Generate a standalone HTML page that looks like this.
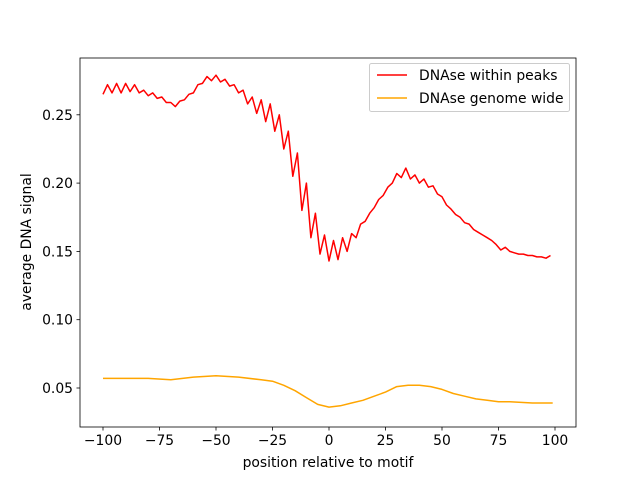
<!DOCTYPE html>
<html><head><meta charset="utf-8"><style>
body{margin:0;background:#fff;}
svg text{font-family:"DejaVu Sans","Liberation Sans",sans-serif;font-size:13.9px;fill:#000;}
</style></head><body>
<svg id="chart" width="640" height="480" xmlns="http://www.w3.org/2000/svg">
<rect width="640" height="480" fill="#fff"/>
<g id="plot"></g>
</svg>
<script>
const redX = [-100,-98,-96,-94,-92,-90,-88,-86,-84,-82,-80,-78,-76,-74,-72,-70,-68,-66,-64,-62,-60,-58,-56,-54,-52,-50,-48,-46,-44,-42,-40,-38,-36,-34,-32,-30,-28,-26,-24,-22,-20,-18,-16,-14,-12,-10,-8,-6,-4,-2,0,2,4,6,8,10,12,14,16,18,20,22,24,26,28,30,32,34,36,38,40,42,44,46,48,50,52,54,56,58,60,62,64,66,68,70,72,74,76,78,80,82,84,86,88,90,92,94,96,98];
const redY = [.265,.272,.266,.273,.266,.273,.267,.272,.266,.268,.264,.266,.262,.263,.259,.259,.256,.260,.261,.265,.266,.272,.273,.278,.275,.279,.274,.276,.271,.272,.266,.268,.258,.263,.251,.261,.245,.258,.238,.250,.225,.238,.205,.222,.180,.200,.160,.178,.148,.162,.143,.158,.144,.160,.150,.163,.160,.170,.172,.178,.182,.188,.191,.197,.200,.207,.204,.211,.203,.206,.200,.203,.197,.198,.192,.190,.184,.181,.177,.175,.171,.170,.166,.164,.162,.160,.158,.155,.151,.153,.150,.149,.148,.148,.147,.147,.146,.146,.145,.147];
const orangeX = [-100,-90,-80,-70,-60,-50,-40,-30,-25,-20,-15,-10,-5,0,5,10,15,20,25,30,35,40,45,50,55,60,65,70,75,80,90,99];
const orangeY = [.057,.057,.057,.056,.058,.059,.058,.056,.055,.052,.048,.043,.038,.036,.037,.039,.041,.044,.047,.051,.052,.052,.051,.049,.046,.044,.042,.041,.040,.040,.039,.039];
const xTicks = [-100,-75,-50,-25,0,25,50,75,100];
const yTicks = [0.05,0.10,0.15,0.20,0.25];
const yTickLabels = ["0.05","0.10","0.15","0.20","0.25"];

const L=80,R=576,T=58,B=427;
const xs=v=>329+v*2.26;
const ys=v=>388-(v-0.05)/0.05*68.3;
const NS="http://www.w3.org/2000/svg";
const g=document.getElementById('plot');
function mk(tag,attrs){const e=document.createElementNS(NS,tag);for(const k in attrs)e.setAttribute(k,attrs[k]);g.appendChild(e);return e;}

function series(xa,ya,color,name){
  const p=mk('path',{d:xa.map((x,i)=>(i?'L':'M')+xs(x).toFixed(1)+','+ys(ya[i]).toFixed(1)).join(''),fill:'none',stroke:color,'stroke-width':1.5,'stroke-linejoin':'round'});
  
  
}
series(orangeX,orangeY,'#ffa500','series-genome-wide');
series(redX,redY,'#ff0000','series-within-peaks');

const frame=mk('rect',{x:L,y:T,width:R-L,height:B-T,fill:'none',stroke:'#000','stroke-width':0.8});



xTicks.forEach(v=>{
  const tk=mk('line',{x1:xs(v),x2:xs(v),y1:B,y2:B+3.5,stroke:'#000','stroke-width':0.8});
  
  
  const t=mk('text',{x:xs(v),y:B+18,'text-anchor':'middle'});t.textContent=String(v).replace('-','−');
  
  
});
yTicks.forEach((v,i)=>{
  const tk=mk('line',{x1:L-3.5,x2:L,y1:ys(v),y2:ys(v),stroke:'#000','stroke-width':0.8});
  
  
  const t=mk('text',{x:L-7,y:ys(v)+5,'text-anchor':'end'});t.textContent=yTickLabels[i];
  
  
});
const xl=mk('text',{x:(L+R)/2,y:467,'text-anchor':'middle'});xl.textContent='position relative to motif';


const yl=mk('text',{x:0,y:0,'text-anchor':'middle',transform:'translate(31,242) rotate(-90)'});yl.textContent='average DNA signal';



const lg=mk('rect',{x:369.5,y:63.5,width:200,height:48,rx:2,fill:'#fff',stroke:'#ccc','stroke-width':1});


[['DNAse within peaks','#ff0000',75],['DNAse genome wide','#ffa500',98]].forEach(([lab,c,y])=>{
  const ln=mk('line',{x1:377,x2:407,y1:y,y2:y,stroke:c,'stroke-width':1.5});
  
  
  const t=mk('text',{x:419,y:y+5});t.textContent=lab;
  
  
});
</script>
</body></html>
